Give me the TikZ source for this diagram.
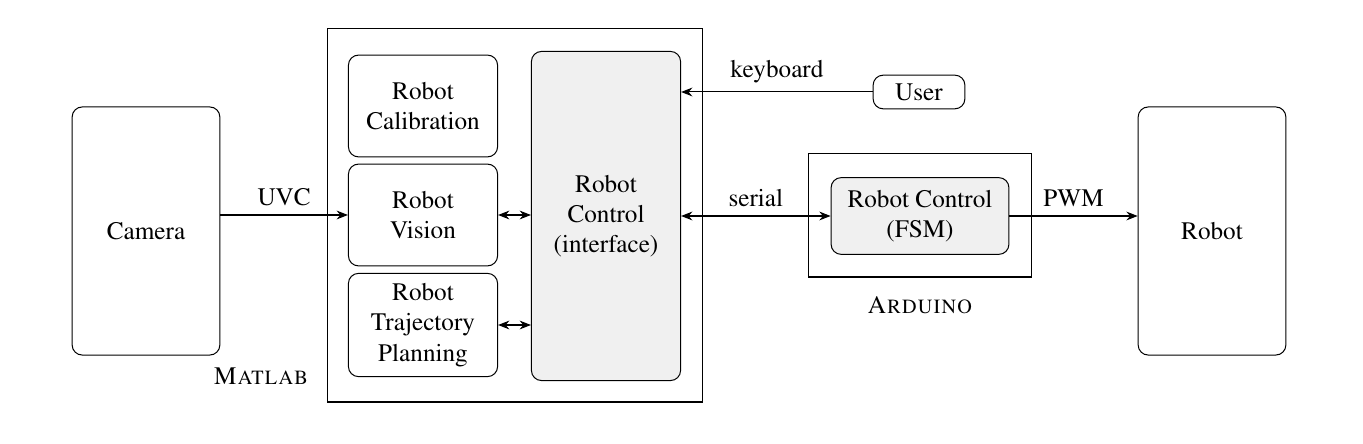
\documentclass[tikz,border=0pt]{standalone}
\usepackage[T1]{fontenc}
\usepackage{mathptmx}
\usetikzlibrary{arrows.meta}
\tikzset{
	block/.style={draw, rounded corners, align=center, inner sep=0pt},
	shaded/.style={block, fill=black!6},
	link/.style={-{Stealth[length=4.5pt,width=3.5pt,inset=1.5pt]}},
	duplex/.style={{Stealth[length=4.5pt,width=3.5pt,inset=1.5pt]}-{Stealth[length=4.5pt,width=3.5pt,inset=1.5pt]}}
}

\begin{document}
\begin{tikzpicture}[x=0.01395cm, y=-0.01395cm]
	\useasboundingbox (0, 0) rectangle (1363, 444);

	% containers
	\draw (327, 29) rectangle (702, 402);
	\draw (808, 154) rectangle (1031, 277);
	\node at (261, 376) {\textsc{Matlab}};
	\node at (920, 305) {\textsc{Arduino}};

	\node[block, minimum width=2.06cm, minimum height=3.46cm] (camera) at (146, 231) {Camera};
	\node[block, minimum width=2.06cm, minimum height=3.46cm] (robot) at (1212, 231) {Robot};

	\node[block, minimum width=2.08cm, minimum height=1.42cm] (calib) at (423, 106) {Robot\\Calibration};
	\node[block, minimum width=2.08cm, minimum height=1.42cm] (vision) at (423, 215) {Robot\\Vision};
	\node[block, minimum width=2.08cm, minimum height=1.44cm] (traj) at (423, 325) {Robot\\Trajectory\\Planning};
	\node[shaded, minimum width=2.08cm, minimum height=4.59cm] (iface) at (606, 216) {Robot\\Control\\(interface)};

	\node[block, minimum width=1.28cm, minimum height=0.47cm] (user) at (919, 92) {User};
	\node[shaded, minimum width=2.48cm, minimum height=1.07cm] (fsm) at (920, 216) {Robot Control\\(FSM)};

	% connections
	\draw[link] (camera.east |- vision.west) -- node[above] {UVC} (vision.west);
	\draw[duplex] (vision.east) -- (iface.west |- vision.east);
	\draw[duplex] (traj.east) -- (iface.west |- traj.east);
	\draw[link] (user.west) -- node[above] {keyboard} (iface.east |- user.west);
	\draw[duplex] (iface.east |- fsm.west) -- node[above] {serial} (fsm.west);
	\draw[link] (fsm.east) -- node[above] {PWM} (robot.west |- fsm.east);
\end{tikzpicture}
\end{document}
